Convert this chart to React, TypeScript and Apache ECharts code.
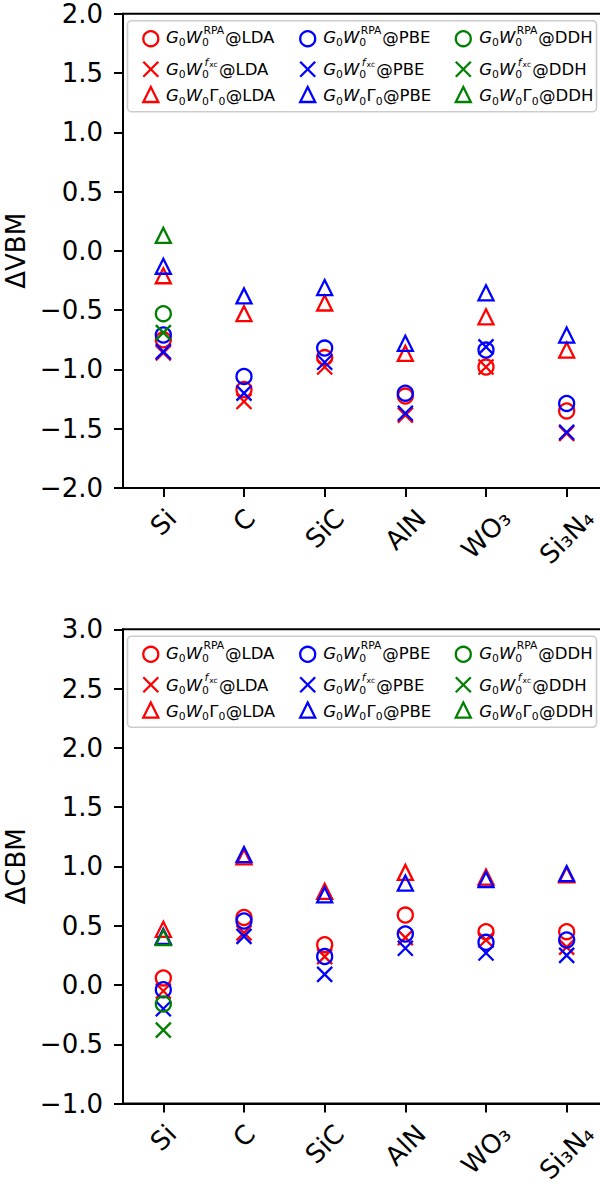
import React, { useEffect, useRef } from "react";
import * as echarts from "echarts";

// ---------- data ----------
const categories = ["Si", "C", "SiC", "AlN", "WO₃", "Si₃N₄"];

const vbmRange = [-2, 2];
const cbmRange = [-1, 3];
const tickStep = 0.5;

// ΔVBM
const vbmRpaLda = [-0.75, -1.17, -0.9, -1.225, -0.98, -1.35];
const vbmFxcLda = [-0.86, -1.27, -0.98, -1.385, -0.98, -1.54];
const vbmGGLda = [-0.21, -0.53, -0.44, -0.865, -0.556, -0.837];
const vbmRpaPbe = [-0.71, -1.06, -0.82, -1.2, -0.837, -1.287];
const vbmFxcPbe = [-0.85, -1.2, -0.94, -1.37, -0.81, -1.53];
const vbmGGPbe = [-0.13, -0.38, -0.31, -0.78, -0.354, -0.71];
const vbmRpaDdh = [-0.53, null, null, null, null, null];
const vbmFxcDdh = [-0.69, null, null, null, null, null];
const vbmGGDdh = [0.13, null, null, null, null, null];

// ΔCBM
const cbmRpaLda = [0.06, 0.57, 0.34, 0.59, 0.45, 0.45];
const cbmFxcLda = [-0.05, 0.44, 0.24, 0.4, 0.38, 0.32];
const cbmGGLda = [0.47, 1.08, 0.79, 0.95, 0.91, 0.93];
const cbmRpaPbe = [-0.04, 0.54, 0.24, 0.43, 0.36, 0.38];
const cbmFxcPbe = [-0.2, 0.41, 0.09, 0.31, 0.27, 0.25];
const cbmGGPbe = [0.41, 1.1, 0.76, 0.86, 0.89, 0.94];
const cbmRpaDdh = [-0.16, null, null, null, null, null];
const cbmFxcDdh = [-0.38, null, null, null, null, null];
const cbmGGDdh = [0.4, null, null, null, null, null];

const functionals = ["LDA", "PBE", "DDH"];

// ---------- styles ----------
const FONT = "DejaVu Sans";
const COLORS: Record<string, string> = { LDA: "#ff0000", PBE: "#0000ff", DDH: "#008000" };
const X_SYMBOL = "path://M0,0L10,10M10,0L0,10";
const SYM_SIZE = 15;
const SYM_LW = 2.3;

const W = 600;
const H = 1188;
const GRID_LEFT = 123;
const GRID_WIDTH = 484;
const GRID_HEIGHT = 474.3;
const GRID_TOPS = [13.7, 629.3];
const TICK_FS = 26;

let _ctx: CanvasRenderingContext2D | null = null;
function measure(text: string, size: number, italic = false) {
  if (!_ctx) _ctx = document.createElement("canvas").getContext("2d");
  const ctx = _ctx!;
  ctx.font = `${italic ? "italic " : ""}${size}px "${FONT}"`;
  const m = ctx.measureText(text);
  return { w: m.width, desc: m.actualBoundingBoxDescent || 0 };
}

function scatter(data: (number | null)[], symbol: string, color: string, idx: number) {
  return {
    type: "scatter",
    xAxisIndex: idx,
    yAxisIndex: idx,
    data: data.map((v) => (v == null ? "-" : v)),
    symbol,
    symbolSize: SYM_SIZE,
    silent: true,
    itemStyle: {
      color: "transparent",
      borderColor: color,
      borderWidth: SYM_LW,
      borderJoin: "miter",
      opacity: 1,
    },
    emphasis: { disabled: true },
    z: 3,
  };
}

function txt(x: number, baseline: number, s: string, size: number, italic = false) {
  return {
    type: "text",
    x,
    y: baseline - 0.346 * size,
    z: 100,
    silent: true,
    style: {
      text: s,
      fontSize: size,
      fontFamily: FONT,
      fontStyle: italic ? "italic" : "normal",
      fill: "#000",
      align: "left",
      verticalAlign: "middle",
    },
  };
}

const SCRIPT = 10.8; // script font size
const STACK_L = 12.6; // line spacing of stacked super/subscripts
const SUP_RISE = 9.4; // superscript baseline above main baseline

// two-line stacked superscript / subscript block
function stackTxt(x: number, baseline: number, supRich: string, subRich: string, rich: any) {
  const supBase = baseline - SUP_RISE;
  const top = supBase - 0.346 * SCRIPT - STACK_L / 2;
  return {
    type: "text",
    x,
    y: top,
    z: 100,
    silent: true,
    style: {
      text: supRich + "\n" + subRich,
      fontSize: SCRIPT,
      fontFamily: FONT,
      fill: "#000",
      lineHeight: STACK_L,
      align: "left",
      verticalAlign: "top",
      rich,
    },
  };
}

function legendGraphics(ay: number) {
  const els: any[] = [];
  els.push({
    type: "rect",
    z: 99,
    silent: true,
    shape: { x: 127.5, y: ay + 7, width: 469, height: 91, r: 4 },
    style: { fill: "rgba(255,255,255,0.8)", stroke: "#cccccc", lineWidth: 1.6 },
  });
  const markerX = [150.8, 307.7, 463.3];
  const textX = [166, 323.3, 479.3];
  const big = 16.5;
  const small = SCRIPT;
  const tiny = small * 0.7;
  const ic = 1.5;
  const icF = 2.5;
  const L = STACK_L;

  const wG = measure("G", big, true).w;
  const wW = measure("W", big, true).w;
  const w0 = measure("0", small).w;
  const wRPA = measure("RPA", small).w;
  const wf = measure("f", small, true).w;
  const wxc = measure("xc", tiny).w;
  const wGam = measure("Γ", big).w;

  const baseRich = {
    u: { fontSize: small, fontFamily: FONT, fill: "#000", lineHeight: L, padding: [0, 0, 0, ic] },
    d: { fontSize: small, fontFamily: FONT, fill: "#000", lineHeight: L },
    f: { fontSize: small, fontFamily: FONT, fontStyle: "italic", fill: "#000", lineHeight: L, padding: [0, 0, 0, icF] },
    x: { fontSize: tiny, fontFamily: FONT, fill: "#000", lineHeight: 7, verticalAlign: "bottom", padding: [0, 0, 0, 1] },
  };

  const subDrop = 3.2;

  functionals.forEach((f, c) => {
    const color = COLORS[f];
    const mx = markerX[c];
    const T = textX[c];
    const r = SYM_SIZE / 2;
    // row 1: circle
    const c1 = ay + 25;
    els.push({
      type: "circle",
      z: 100,
      silent: true,
      shape: { cx: mx, cy: c1, r },
      style: { fill: "none", stroke: color, lineWidth: SYM_LW },
    });
    // row 2: x
    const c2 = ay + 55.5;
    els.push({
      type: "line",
      z: 100,
      silent: true,
      shape: { x1: mx - r, y1: c2 - r, x2: mx + r, y2: c2 + r },
      style: { stroke: color, lineWidth: SYM_LW },
    });
    els.push({
      type: "line",
      z: 100,
      silent: true,
      shape: { x1: mx - r, y1: c2 + r, x2: mx + r, y2: c2 - r },
      style: { stroke: color, lineWidth: SYM_LW },
    });
    // row 3: triangle
    const c3 = ay + 80.8;
    els.push({
      type: "polygon",
      z: 100,
      silent: true,
      shape: {
        points: [
          [mx, c3 - r],
          [mx + r, c3 + r],
          [mx - r, c3 + r],
        ],
      },
      style: { fill: "none", stroke: color, lineWidth: SYM_LW, lineJoin: "miter" },
    });

    // row 1: G0 W0^RPA @F
    {
      const b = ay + 29.6;
      let x = T;
      els.push(txt(x, b, "G", big, true));
      x += wG;
      els.push(txt(x, b + subDrop, "0", small));
      x += w0;
      els.push(txt(x, b, "W", big, true));
      x += wW;
      els.push(stackTxt(x, b, "{u|RPA}", "{d|0}", baseRich));
      x += Math.max(ic + wRPA, w0) + 0.8;
      els.push(txt(x, b, "@" + f, big));
    }
    // row 2: G0 W0^fxc @F
    {
      const b = ay + 61.8;
      let x = T;
      els.push(txt(x, b, "G", big, true));
      x += wG;
      els.push(txt(x, b + subDrop, "0", small));
      x += w0;
      els.push(txt(x, b, "W", big, true));
      x += wW;
      els.push(stackTxt(x, b, "{f|f}{x|xc}", "{d|0}", baseRich));
      x += Math.max(icF + wf + 1 + wxc, w0) + 1.2;
      els.push(txt(x, b, "@" + f, big));
    }
    // row 3: G0 W0 Γ0 @F
    {
      const b = ay + 88;
      let x = T;
      els.push(txt(x, b, "G", big, true));
      x += wG;
      els.push(txt(x, b + subDrop, "0", small));
      x += w0;
      els.push(txt(x, b, "W", big, true));
      x += wW;
      els.push(txt(x, b + subDrop, "0", small));
      x += w0 + 0.4;
      els.push(txt(x, b, "Γ", big));
      x += wGam;
      els.push(txt(x, b + subDrop, "0", small));
      x += w0 + 0.4;
      els.push(txt(x, b, "@" + f, big));
    }
  });
  return els;
}

export default function App() {
  const ref = useRef<HTMLDivElement>(null);

  useEffect(() => {
    if (!ref.current) return;
    const chart = echarts.init(ref.current, undefined, { renderer: "svg", width: W, height: H });

    const yFmt = (v: number) => (v < 0 ? "−" : "") + Math.abs(v).toFixed(1);

    const panels = [
      { range: vbmRange, name: "ΔVBM", sets: [[vbmRpaLda, vbmFxcLda, vbmGGLda], [vbmRpaPbe, vbmFxcPbe, vbmGGPbe], [vbmRpaDdh, vbmFxcDdh, vbmGGDdh]] },
      { range: cbmRange, name: "ΔCBM", sets: [[cbmRpaLda, cbmFxcLda, cbmGGLda], [cbmRpaPbe, cbmFxcPbe, cbmGGPbe], [cbmRpaDdh, cbmFxcDdh, cbmGGDdh]] },
    ];

    const symbols = ["circle", X_SYMBOL, "triangle"];

    const series: any[] = [];
    panels.forEach((p, idx) => {
      functionals.forEach((f, fi) => {
        p.sets[fi].forEach((arr, mi) => {
          series.push(scatter(arr as (number | null)[], symbols[mi], COLORS[f], idx));
        });
      });
    });

    const axisLineStyle = { color: "#000", width: 2 };

    const option: any = {
      animation: false,
      backgroundColor: "#fff",
      grid: GRID_TOPS.map((top) => ({
        left: GRID_LEFT,
        top,
        width: GRID_WIDTH,
        height: GRID_HEIGHT,
        show: true,
        borderColor: "#000",
        borderWidth: 2,
        backgroundColor: "transparent",
        containLabel: false,
        outerBoundsMode: "none",
      })),
      xAxis: panels.map((_, idx) => ({
        gridIndex: idx,
        type: "category",
        data: categories,
        boundaryGap: true,
        axisLine: { show: true, onZero: false, lineStyle: axisLineStyle },
        axisTick: { show: true, alignWithLabel: true, interval: 0, length: 9, lineStyle: axisLineStyle },
        splitLine: { show: false },
        axisLabel: { show: false },
      })),
      yAxis: panels.map((p, idx) => ({
        gridIndex: idx,
        type: "value",
        min: p.range[0],
        max: p.range[1],
        interval: tickStep,
        axisLine: { show: true, onZero: false, lineStyle: axisLineStyle },
        axisTick: { show: true, length: 9, lineStyle: axisLineStyle },
        splitLine: { show: false },
        axisLabel: {
          fontSize: TICK_FS,
          fontFamily: FONT,
          color: "#000",
          margin: 20,
          formatter: yFmt,
        },
        name: p.name,
        nameLocation: "middle",
        nameGap: 84,
        nameTextStyle: { fontSize: TICK_FS, fontFamily: FONT, color: "#000" },
      })),
      series,
    };

    chart.setOption(option);

    // rotated category labels, centred under each tick (matplotlib style)
    const labelEls: any[] = [];
    panels.forEach((p, idx) => {
      categories.forEach((c, i) => {
        const pt = chart.convertToPixel({ gridIndex: idx } as any, [i, p.range[0]]) as number[];
        const m = measure(c, TICK_FS);
        const d = 25.8 + 0.3535 * m.w + 0.9 * Math.max(0, m.desc);
        labelEls.push({
          type: "text",
          x: pt[0],
          y: pt[1] + d,
          rotation: Math.PI / 4,
          z: 50,
          silent: true,
          style: {
            text: c,
            fontSize: TICK_FS,
            fontFamily: FONT,
            fill: "#000",
            align: "center",
            verticalAlign: "middle",
          },
        });
      });
    });

    chart.setOption({
      graphic: [...legendGraphics(GRID_TOPS[0]), ...legendGraphics(GRID_TOPS[1]), ...labelEls],
    });

    return () => chart.dispose();
  }, []);

  return (
    <div
      ref={ref}
      style={{ position: "absolute", left: 0, top: 0, width: W, height: H, background: "#fff" }}
    />
  );
}
